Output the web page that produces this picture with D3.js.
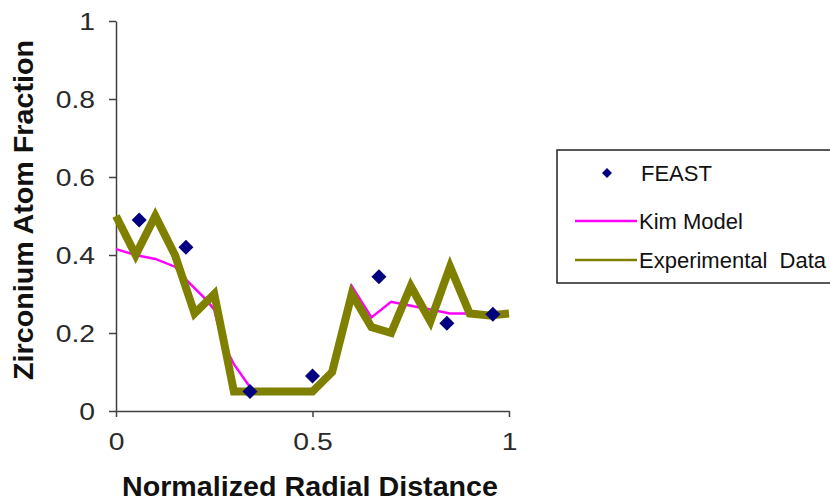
<!DOCTYPE html>
<html><head><meta charset="utf-8">
<script src="https://cdn.jsdelivr.net/npm/d3@7"></script>
<style>body{margin:0;background:#fff}svg{display:block}text{font-family:"Liberation Sans",Arial,sans-serif}</style>
</head><body><div id="chart"></div>
<script>
const seriesNames = ["FEAST", "Kim Model", "Experimental  Data"];
const feastX = [0.059, 0.178, 0.341, 0.5, 0.669, 0.842, 0.959];
const feastY = [0.49, 0.42, 0.05, 0.09, 0.344, 0.225, 0.248];
const kimX = [0, 0.05, 0.1, 0.15, 0.18, 0.23, 0.25, 0.27, 0.3, 0.335, 0.35, 0.4, 0.45, 0.5, 0.55, 0.6, 0.65, 0.7, 0.75, 0.8, 0.85, 0.9, 0.95, 1.0];
const kimY = [0.415, 0.40, 0.39, 0.37, 0.335, 0.285, 0.26, 0.18, 0.12, 0.07, 0.05, 0.05, 0.05, 0.05, 0.1, 0.32, 0.24, 0.28, 0.27, 0.26, 0.25, 0.25, 0.25, 0.25];
const expX = [0, 0.05, 0.1, 0.15, 0.2, 0.25, 0.3, 0.35, 0.4, 0.45, 0.5, 0.55, 0.6, 0.65, 0.7, 0.75, 0.8, 0.85, 0.9, 0.95, 1.0];
const expY = [0.5, 0.4, 0.5, 0.4, 0.25, 0.3, 0.05, 0.05, 0.05, 0.05, 0.05, 0.1, 0.3, 0.215, 0.2, 0.32, 0.23, 0.37, 0.25, 0.245, 0.25];
const xTicks = [0, 0.5, 1];
const xTickLabels = ["0", "0.5", "1"];
const yTicks = [0, 0.2, 0.4, 0.6, 0.8, 1];
const yTickLabels = ["0", "0.2", "0.4", "0.6", "0.8", "1"];

const W = 830, H = 502;
const svg = d3.select("#chart").append("svg").attr("width", W).attr("height", H);
const x = d3.scaleLinear().domain([0, 1]).range([116, 509]);
const y = d3.scaleLinear().domain([0, 1]).range([411, 21]);
const axisColor = "#404040";

// axes
const gx = svg.append("g").attr("transform", `translate(0,${y(0)})`)
  .call(d3.axisBottom(x).tickValues(xTicks).tickFormat((d,i)=>xTickLabels[i]).tickSize(6).tickSizeOuter(0).tickPadding(10));
const gy = svg.append("g").attr("transform", `translate(${x(0)},0)`)
  .call(d3.axisLeft(y).tickValues(yTicks).tickFormat((d,i)=>yTickLabels[i]).tickSize(7).tickSizeOuter(0).tickPadding(14));
[gx, gy].forEach(g => {
  g.select(".domain").attr("stroke", axisColor).attr("stroke-width", 1.5);
  g.selectAll(".tick line").attr("stroke", axisColor).attr("stroke-width", 1.5);
  g.selectAll(".tick text").attr("fill", "#2a2a2a").style("font-size", "24px").style("font-family", "'Liberation Sans',Arial,sans-serif")
    .each(function(){ const w = this.getComputedTextLength(); d3.select(this).attr("textLength", w*1.18).attr("lengthAdjust", "spacingAndGlyphs"); });
});
gx.selectAll(".tick text").attr("dy", "0.95em");
gy.selectAll(".tick text").attr("dy", "0.35em");

// axis titles
svg.append("text").attr("x", 310).attr("y", 496).attr("text-anchor", "middle")
  .attr("textLength", 376).attr("lengthAdjust", "spacingAndGlyphs")
  .style("font-size", "28px").style("font-weight", "bold").attr("fill", "#111").text("Normalized Radial Distance");
svg.append("text").attr("transform", `translate(33,210) rotate(-90)`).attr("text-anchor", "middle")
  .attr("textLength", 340).attr("lengthAdjust", "spacingAndGlyphs")
  .style("font-size", "28px").style("font-weight", "bold").attr("fill", "#111").text("Zirconium Atom Fraction");

// lines
const line = d3.line().x(d => x(d[0])).y(d => y(d[1]));
svg.append("path").datum(kimX.map((v,i)=>[v, kimY[i]])).attr("d", line)
  .attr("fill", "none").attr("stroke", "#ff00ff").attr("stroke-width", 2.5);
svg.append("path").datum(expX.map((v,i)=>[v, expY[i]])).attr("d", line)
  .attr("fill", "none").attr("stroke", "#808000").attr("stroke-width", 8).attr("stroke-linejoin", "miter");

const diamond = (cx, cy, r) => `M${cx},${cy-r}L${cx+r},${cy}L${cx},${cy+r}L${cx-r},${cy}Z`;
svg.append("g").selectAll("path").data(feastX.map((v,i)=>[v, feastY[i]])).join("path")
  .attr("d", d => diamond(x(d[0]), y(d[1]), 7.5)).attr("fill", "#000080");

// legend
const lg = svg.append("g");
lg.append("rect").attr("x", 557).attr("y", 150).attr("width", 290).attr("height", 133)
  .attr("fill", "#fff").attr("stroke", "#222").attr("stroke-width", 1.5);
const ly = [173, 221, 260];
lg.append("path").attr("d", diamond(607, ly[0], 5)).attr("fill", "#000080");
lg.append("line").attr("x1", 575).attr("x2", 637).attr("y1", ly[1]).attr("y2", ly[1]).attr("stroke", "#ff00ff").attr("stroke-width", 2.5);
lg.append("line").attr("x1", 575).attr("x2", 637).attr("y1", ly[2]).attr("y2", ly[2]).attr("stroke", "#808000").attr("stroke-width", 2.5);
const lx = [641, 639, 639];
seriesNames.forEach((n, i) => {
  lg.append("text").attr("x", lx[i]).attr("y", ly[i]).attr("dy", "0.35em")
    .style("font-size", "22px").style("white-space", "pre").attr("xml:space", "preserve").attr("fill", "#111").text(n);
});
</script></body></html>
